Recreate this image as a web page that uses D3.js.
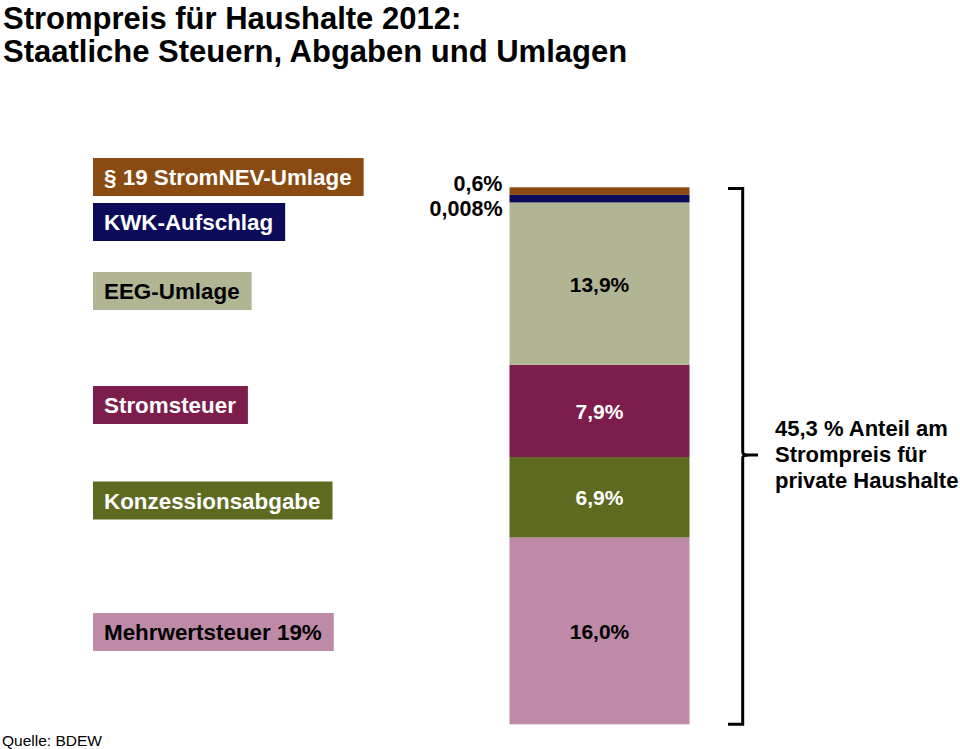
<!DOCTYPE html>
<html>
<head>
<meta charset="utf-8">
<script src="https://cdn.jsdelivr.net/npm/d3@7"></script>
<style>
  html, body { margin: 0; padding: 0; background: #fff; }
  svg { display: block; font-family: "Liberation Sans", Arial, Helvetica, sans-serif; }
</style>
</head>
<body>
<svg id="chart" width="960" height="749"></svg>
<script>
// ---- data (bottom to top of the stacked bar) ----
const categories = ["Mehrwertsteuer 19%", "Konzessionsabgabe", "Stromsteuer", "EEG-Umlage", "KWK-Aufschlag", "§ 19 StromNEV-Umlage"];
const values = [16.0, 6.9, 7.9, 13.9, 0.008, 0.6];
const valueLabels = ["16,0%", "6,9%", "7,9%", "13,9%", "0,008%", "0,6%"];
const colors = ["#bf8aa7", "#5e6a20", "#7c1d4b", "#b1b594", "#0b0b5a", "#8a4b12"];
const legendTextColors = ["#000", "#fff", "#fff", "#000", "#fff", "#fff"];
const valueTextColors = ["#000", "#fff", "#fff", "#000", "#000", "#000"];
const titleLines = ["Strompreis für Haushalte 2012:", "Staatliche Steuern, Abgaben und Umlagen"];
const totalLines = ["45,3 % Anteil am", "Strompreis für", "private Haushalte"];
const sourceText = "Quelle: BDEW";

// ---- layout ----
const minShare = 0.65;          // tiny shares get a visible minimum band
const barTop = 187.3, barBottom = 724.3;
const legendCenters = [632, 500.5, 405, 291, 222, 177];

const svg = d3.select("#chart");

const display = values.map(v => Math.max(v, minShare));
const total = d3.sum(display);
const y = d3.scaleLinear().domain([0, total]).range([barBottom, barTop]);
const x = d3.scaleBand().domain(["2012"]).range([509.5, 689.5]).padding(0);

let cum = 0;
const segs = categories.map((c, i) => {
  const s = { cat: c, i, v0: cum, v1: cum + display[i] };
  cum += display[i];
  return s;
});

// bars
svg.append("g").selectAll("rect").data(segs).join("rect")
  .attr("x", x("2012"))
  .attr("width", x.bandwidth())
  .attr("y", d => y(d.v1))
  .attr("height", d => y(d.v0) - y(d.v1))
  .attr("fill", d => colors[d.i]);

// value labels
const lbl = svg.append("g").attr("font-weight", "bold").attr("font-size", 21);
segs.forEach(d => {
  const small = values[d.i] < 1;
  if (!small) {
    lbl.append("text")
      .attr("x", x("2012") + x.bandwidth() / 2)
      .attr("y", (y(d.v0) + y(d.v1)) / 2)
      .attr("dy", "0.38em")
      .attr("text-anchor", "middle")
      .attr("fill", valueTextColors[d.i])
      .text(valueLabels[d.i]);
  }
});
// small labels outside, left of bar
const sNav = segs[4], sBrown = segs[5];
lbl.append("text").attr("x", x("2012") - 7).attr("y", y(sBrown.v1) + 3.5)
  .attr("text-anchor", "end").attr("font-size", 21.5).text(valueLabels[5]);
lbl.append("text").attr("x", x("2012") - 7).attr("y", y(sNav.v0) + 13.5)
  .attr("text-anchor", "end").attr("font-size", 21.5).text(valueLabels[4]);

// legend boxes
const leg = svg.append("g").attr("font-weight", "bold").attr("font-size", 22.4);
segs.forEach(d => {
  const g = leg.append("g");
  const cy = legendCenters[d.i];
  const rect = g.append("rect").attr("fill", colors[d.i]);
  const t = g.append("text")
    .attr("x", 93 + 11)
    .attr("y", cy + 8)
    .attr("fill", legendTextColors[d.i])
    .text(d.cat);
  const w = t.node().getComputedTextLength();
  rect.attr("x", 93).attr("y", cy - 19).attr("width", w + 23).attr("height", 38);
});

// brace
const bx = 742.7, yT = y(total) + 1.2, yB = y(0), yM = 455;
svg.append("path")
  .attr("d", `M728,${yT} L${bx},${yT} L${bx},${yM - 3} Q${bx},${yM} ${bx + 6},${yM} L758,${yM} M${bx + 6},${yM} Q${bx},${yM} ${bx},${yM + 3} L${bx},${yB} L728,${yB}`)
  .attr("fill", "none")
  .attr("stroke", "#000")
  .attr("stroke-width", 3);

// total text
svg.append("g").attr("font-weight", "bold").attr("font-size", 22)
  .selectAll("text").data(totalLines).join("text")
  .attr("x", 775)
  .attr("y", (d, i) => 436 + i * 26)
  .text(d => d);

// title
svg.append("g").attr("font-weight", "bold").attr("font-size", 31)
  .selectAll("text").data(titleLines).join("text")
  .attr("x", 3)
  .attr("y", (d, i) => 28.5 + i * 33.5)
  .text(d => d);

// source
svg.append("text").attr("x", 2).attr("y", 746).attr("font-size", 15.5).text(sourceText);
</script>
</body>
</html>
